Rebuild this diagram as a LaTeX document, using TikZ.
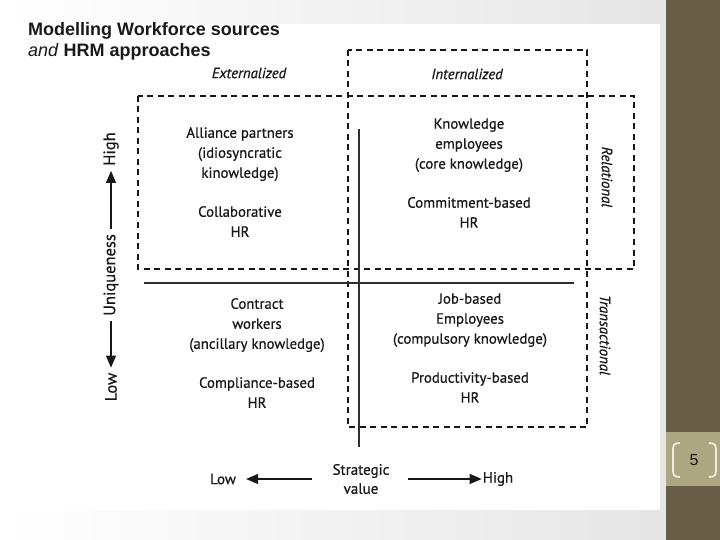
\documentclass[tikz,border=0pt]{standalone}
\usepackage{fontspec}
\setmainfont{PT Sans}[FakeBold=0.6]
\newfontfamily\slidefont{Liberation Sans}
\usetikzlibrary{arrows.meta,positioning}
\definecolor{stripbrown}{RGB}{104,94,72}
\definecolor{bandolive}{RGB}{172,167,128}
\definecolor{bracketcream}{RGB}{240,238,222}
\definecolor{scanink}{RGB}{24,24,24}

\begin{document}
\begin{tikzpicture}
[x=1pt, y=-1pt,
 quad/.style={align=center,text=scanink,inner sep=0pt,font=\fontsize{14.8}{20}\selectfont},
 head/.style={text=scanink,inner sep=0pt,font=\itshape\fontsize{14.8}{20}\selectfont},
 side/.style={head,rotate=-90},
 axis/.style={text=scanink,align=center,font=\fontsize{15}{19}\selectfont},
 axisV/.style={axis,rotate=90,inner sep=5pt,font=\fontsize{16.5}{19}\selectfont},
 title/.style={anchor=west,inner sep=0pt,text=black!90,font=\slidefont\fontsize{18}{21}\selectfont},
 zone/.style={draw=scanink,line width=1.1pt,dash pattern=on 6pt off 4.5pt},
 cut/.style={draw=scanink!90,line width=1.1pt},
 pointer/.style={draw=scanink,line width=1.1pt,-{Triangle[length=12pt,width=10pt]}}]
\useasboundingbox (0,0) rectangle (720,540);
% slide background
\shade[left color=white,right color=black!10] (0,0) rectangle (666,540);
\fill[white] (0,24) rectangle (660,510);
\fill[stripbrown] (666,0) rectangle (720,540);
\fill[bandolive] (666,432) rectangle (720,486);
\draw[bracketcream,line width=1.8pt] (680,443) .. controls (674,443) and (673,445) .. (673,450)
   -- (673,470) .. controls (673,475) and (674,477) .. (680,477);
\draw[bracketcream,line width=1.8pt] (709,443) .. controls (715,443) and (716,445) .. (716,450)
   -- (716,470) .. controls (716,475) and (715,477) .. (709,477);
\node[font=\slidefont\fontsize{16}{16}\selectfont,text=black!75!stripbrown] (page) at (694,460) {5};
% title
\node[title] (title1) at (28,31) {\bfseries Modelling Workforce sources};
\node[title] (title2) at (28,52) {{\itshape and} \textbf{HRM approaches}};
% dashed zones
\draw[zone] (348,50) rectangle (587,427);
\draw[zone] (138,96) rectangle (634,269);
\node[head] (ext)   at (249,73) {Externalized};
\node[head] (int)   at (467,74) {Internalized};
\node[side] (rel)   at (607,177) {Relational};
\node[side] (trans) at (605,335) {Transactional};
% quadrants
\coordinate (vtop)   at (359,129);
\coordinate (vbot)   at (359,447);
\coordinate (hleft)  at (144,283);
\coordinate (hright) at (574,283);
\path (vtop)  edge[cut] (vbot)
      (hleft) edge[cut] (hright);
\node[quad] (alliance) at (240,182) {Alliance partners\\(idiosyncratic\\kinowledge)\\[19pt]Collaborative\\HR};
\node[quad] (knowl)    at (469,173) {Knowledge\\employees\\(core knowledge)\\[19pt]Commitment-based\\HR};
\node[quad] (contract) at (257,353) {Contract\\workers\\(ancillary knowledge)\\[19pt]Compliance-based\\HR};
\node[quad] (jobbased) at (470,348) {Job-based\\Employees\\(compulsory knowledge)\\[19pt]Productivity-based\\HR};
% uniqueness axis
\node[axisV] (uniq)  at (111,275) {Uniqueness};
\node[axisV] (uhigh) at (111,149) {High};
\node[axisV] (ulow)  at (111,387) {Low};
\draw[pointer] (uniq) -- (uhigh);
\draw[pointer] (uniq) -- (ulow);
% strategic value axis
\node[axis,inner sep=0pt] (strat) at (361,479) {Strategic\\value};
\node[axis,inner sep=0pt] (slow)  at (223,479) {Low};
\node[axis,inner sep=0pt] (shigh) at (498,479) {High};
\draw[pointer] ([xshift=-20pt]strat.west) -- ([xshift=10pt]slow.east);
\draw[pointer] ([xshift=18pt]strat.east) -- ([xshift=-1pt]shigh.west);
\end{tikzpicture}
\end{document}
